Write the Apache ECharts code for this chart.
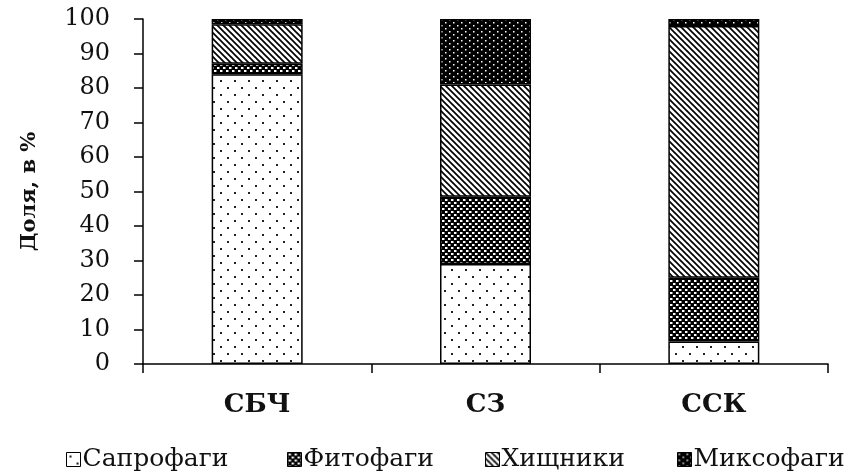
<!DOCTYPE html>
<html>
<head>
<meta charset="utf-8">
<script src="https://cdn.jsdelivr.net/npm/echarts@6/dist/echarts.min.js"></script>
<style>
html,body{margin:0;padding:0;background:#fff;}
#chart{width:861px;height:474px;}
</style>
</head>
<body>
<div id="chart"></div>
<script>
var categories = ['СБЧ', 'СЗ', 'ССК'];
var seriesNames = ['Сапрофаги', 'Фитофаги', 'Хищники', 'Миксофаги'];
var saprophages = [84, 29, 6.5];
var phytophages = [3, 19.5, 18.5];
var predators = [11.5, 32.5, 73];
var mixophages = [1.5, 19, 2];
var yTicks = [0, 10, 20, 30, 40, 50, 60, 70, 80, 90, 100];

function makeTile(w, h, draw) {
  var c = document.createElement('canvas');
  c.width = w; c.height = h;
  var ctx = c.getContext('2d');
  draw(ctx, w, h);
  return c;
}
var patSapro = makeTile(14, 14, function (ctx, w, h) {
  ctx.fillStyle = '#fff'; ctx.fillRect(0, 0, w, h);
  ctx.fillStyle = '#222';
  ctx.fillRect(3, 3, 2, 2);
  ctx.fillRect(10, 10, 2, 2);
});
var patPhyto = makeTile(6, 6, function (ctx, w, h) {
  ctx.fillStyle = '#000'; ctx.fillRect(0, 0, w, h);
  ctx.fillStyle = '#fff';
  ctx.fillRect(1, 1, 2, 2);
  ctx.fillRect(4, 4, 2, 2);
  ctx.fillStyle = '#777';
  ctx.fillRect(3, 1, 1, 2);
  ctx.fillRect(0, 4, 1, 2);
});
var patPred = makeTile(6, 6, function (ctx, w, h) {
  ctx.fillStyle = '#fff'; ctx.fillRect(0, 0, w, h);
  ctx.strokeStyle = '#000'; ctx.lineWidth = 1.7;
  for (var k = -1; k <= 1; k++) {
    ctx.beginPath();
    ctx.moveTo(k * w - 1, -1);
    ctx.lineTo(k * w + w + 1, h + 1);
    ctx.stroke();
  }
});
var patMixo = makeTile(8, 6, function (ctx, w, h) {
  ctx.fillStyle = '#000'; ctx.fillRect(0, 0, w, h);
  ctx.fillStyle = '#fff';
  ctx.fillRect(1, 1, 1.5, 1.5);
  ctx.fillRect(5, 4, 1.5, 1.5);
});
var patterns = [patSapro, patPhyto, patPred, patMixo];
var dataArr = [saprophages, phytophages, predators, mixophages];
var legendLefts = [61, 282, 480, 672];

var font = 'DejaVu Serif';
var chart = echarts.init(document.getElementById('chart'));
var series = seriesNames.map(function (n, i) {
  return {
    name: n,
    type: 'bar',
    stack: 'total',
    barWidth: 91,
    data: dataArr[i],
    itemStyle: {
      color: { image: patterns[i], repeat: 'repeat' },
      borderColor: '#000',
      borderWidth: 1.5
    },
    emphasis: { disabled: true }
  };
});
var legends = seriesNames.map(function (n, i) {
  return {
    data: [n],
    left: legendLefts[i],
    top: 442,
    icon: 'rect',
    itemWidth: 14,
    itemHeight: 14,
    itemGap: 0,
    itemStyle: { borderColor: '#000', borderWidth: 1 },
    textStyle: { fontFamily: font, fontSize: 25, color: '#111', padding: [0, 0, 0, -3] },
    selectedMode: false
  };
});
chart.setOption({
  animation: false,
  backgroundColor: '#fff',
  grid: { left: 143, right: 33, top: 19, bottom: 110 },
  legend: legends,
  xAxis: {
    type: 'category',
    data: categories,
    axisLine: { lineStyle: { color: '#000', width: 1.5 } },
    axisTick: { show: true, length: 9, lineStyle: { color: '#000', width: 1.5 } },
    axisLabel: { fontFamily: font, fontSize: 26, fontWeight: 'bold', color: '#111', margin: 28 }
  },
  yAxis: {
    type: 'value',
    min: 0,
    max: 100,
    interval: 10,
    name: 'Доля, в %',
    nameLocation: 'middle',
    nameGap: 103,
    nameRotate: 90,
    nameTextStyle: { fontFamily: font, fontSize: 21, fontWeight: 'bold', color: '#111' },
    axisLine: { show: true, lineStyle: { color: '#000', width: 1.5 } },
    axisTick: { show: true, length: 9, lineStyle: { color: '#000', width: 1.5 } },
    splitLine: { show: false },
    axisLabel: {
      fontFamily: font, fontSize: 24, color: '#111', margin: 33,
      formatter: function (v) { return yTicks.indexOf(v) >= 0 ? String(v) : ''; }
    }
  },
  series: series
});
</script>
</body>
</html>
